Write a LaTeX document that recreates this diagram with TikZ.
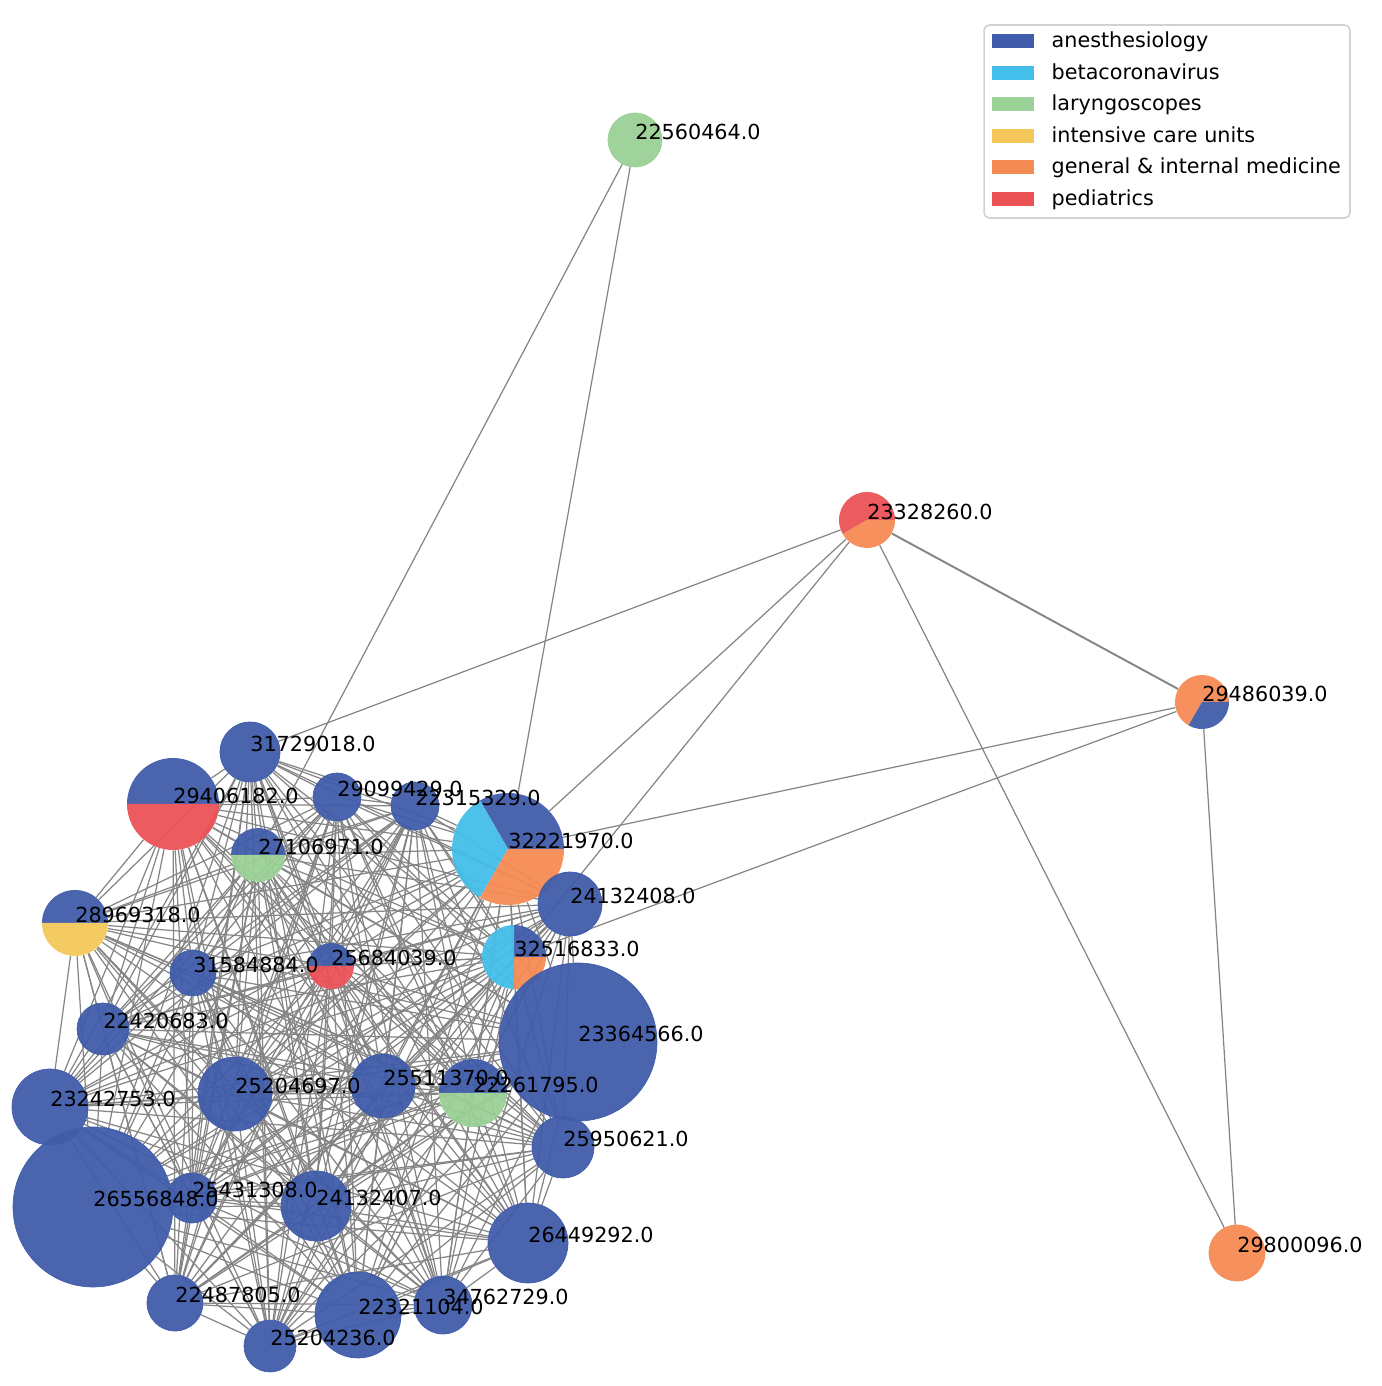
\documentclass[tikz,border=0pt]{standalone}
\usepackage{fontspec}
\setmainfont{DejaVu Sans}
\usetikzlibrary{positioning, backgrounds}
\definecolor{anes}{RGB}{64,92,170}
\definecolor{beta}{RGB}{68,190,234}
\definecolor{laryn}{RGB}{155,208,150}
\definecolor{icu}{RGB}{243,199,90}
\definecolor{genmed}{RGB}{245,139,84}
\definecolor{peds}{RGB}{234,82,86}
% one slice of a pie node: node, radius, start, end, colour
\newcommand{\piepart}[5]{\fill[#5, fill opacity=0.95] (#1.center) -- ++(#3:#2) arc[start angle=#3, end angle=#4, radius=#2] -- cycle;}

\begin{document}
\begin{tikzpicture}[x=0.02cm, y=0.02cm, font=\fontsize{11.8}{14}\selectfont,
    paper/.style args={#1/#2}{circle, inner sep=0pt, minimum size=#1*0.04cm, fill=#2, draw=#2, line width=0.4pt, fill opacity=0.95},
    pienode/.style={circle, inner sep=0pt, minimum size=#1*0.04cm},
    edge/.style={draw=black!48, line width=0.7pt},
    lbl/.style={anchor=base west, inner sep=0pt},
    patch/.style={rectangle, inner sep=0pt, minimum width=0.84cm, minimum height=0.28cm},
    legtxt/.style={inner sep=0pt, anchor=base west}]
  \useasboundingbox (0,0) rectangle (1382,1386);

  % outer papers
  \node[paper=27/laryn] (n22560464) at ( 635,1246) {};
  \node[pienode=28] (n23328260) at ( 867, 866) {};
  \piepart{n23328260}{28}{0}{210}{peds}
  \piepart{n23328260}{28}{210}{360}{genmed}
  \node[pienode=27] (n29486039) at (1202, 684) {};
  \piepart{n29486039}{27}{0}{240}{genmed}
  \piepart{n29486039}{27}{240}{360}{anes}
  \node[paper=28/genmed] (n29800096) at (1237, 133) {};

  % cluster
  \node[paper=30/anes] (n31729018) at ( 250, 634) {};
  \node[pienode=46] (n29406182) at ( 173, 582) {};
  \piepart{n29406182}{46}{0}{180}{anes}
  \piepart{n29406182}{46}{180}{360}{peds}
  \node[paper=24/anes] (n29099429) at ( 337, 589) {};
  \node[paper=24/anes] (n22315329) at ( 415, 580) {};
  \node[pienode=56] (n32221970) at ( 508, 537) {};
  \piepart{n32221970}{56}{0}{120}{anes}
  \piepart{n32221970}{56}{120}{240}{beta}
  \piepart{n32221970}{56}{240}{360}{genmed}
  \node[pienode=27] (n27106971) at ( 258, 531) {};
  \piepart{n27106971}{27}{0}{180}{anes}
  \piepart{n27106971}{27}{180}{360}{laryn}
  \node[paper=32/anes] (n24132408) at ( 570, 482) {};
  \node[pienode=33] (n28969318) at (  75, 463) {};
  \piepart{n28969318}{33}{0}{180}{anes}
  \piepart{n28969318}{33}{180}{360}{icu}
  \node[pienode=32] (n32516833) at ( 514, 429) {};
  \piepart{n32516833}{32}{0}{90}{anes}
  \piepart{n32516833}{32}{90}{270}{beta}
  \piepart{n32516833}{32}{270}{360}{genmed}
  \node[paper=23/anes] (n31584884) at ( 193, 413) {};
  \node[pienode=23] (n25684039) at ( 331, 420) {};
  \piepart{n25684039}{23}{0}{180}{anes}
  \piepart{n25684039}{23}{180}{360}{peds}
  \node[paper=79/anes] (n23364566) at ( 578, 344) {};
  \node[paper=26/anes] (n22420683) at ( 103, 357) {};
  \node[paper=37/anes] (n25204697) at ( 235, 292) {};
  \node[paper=32/anes] (n25511370) at ( 383, 300) {};
  \node[pienode=34] (n22261795) at ( 473, 293) {};
  \piepart{n22261795}{34}{0}{180}{anes}
  \piepart{n22261795}{34}{180}{360}{laryn}
  \node[paper=38/anes] (n23242753) at (  50, 279) {};
  \node[paper=31/anes] (n25950621) at ( 563, 239) {};
  \node[paper=80/anes] (n26556848) at (  93, 179) {};
  \node[paper=25/anes] (n25431308) at ( 192, 188) {};
  \node[paper=35/anes] (n24132407) at ( 316, 180) {};
  \node[paper=40/anes] (n26449292) at ( 528, 143) {};
  \node[paper=28/anes] (n22487805) at ( 175,  83) {};
  \node[paper=43/anes] (n22321104) at ( 358,  71) {};
  \node[paper=29/anes] (n34762729) at ( 443,  81) {};
  \node[paper=26/anes] (n25204236) at ( 270,  40) {};

  % links
  \def\cluster{n31729018,n29406182,n29099429,n22315329,n32221970,n27106971,n24132408,n28969318,n32516833,n31584884,n25684039,n23364566,n22420683,n25204697,n25511370,n22261795,n23242753,n25950621,n26556848,n25431308,n24132407,n26449292,n22487805,n22321104,n34762729,n25204236}
  \begin{pgfonlayer}{background}
    \foreach \a [count=\i] in \cluster {
      \foreach \b [count=\j] in \cluster {
        \ifnum\j>\i \draw[edge] (\a) -- (\b); \fi
      }
    }
    \draw[edge] (n22560464) -- (n27106971);
    \draw[edge] (n22560464) -- (n32221970);
    \draw[edge] (n23328260) -- (n31729018);
    \draw[edge] (n23328260) -- (n32221970);
    \draw[edge] (n23328260) -- (n32516833);
    \draw[edge, line width=1.1pt] (n23328260) -- (n29486039);
    \draw[edge] (n23328260) -- (n29800096);
    \draw[edge] (n29486039) -- (n32221970);
    \draw[edge] (n29486039) -- (n32516833);
    \draw[edge] (n29486039) -- (n29800096);
  \end{pgfonlayer}

  % labels
  \foreach \p in {22560464,23328260,29486039,29800096,31729018,29406182,29099429,22315329,32221970,27106971,24132408,28969318,32516833,31584884,25684039,23364566,22420683,25204697,25511370,22261795,23242753,25950621,26556848,25431308,24132407,26449292,22487805,22321104,34762729,25204236}
    \node[lbl] (t\p) at (n\p.center) {\p.0};

  % legend
  \node[draw=black!18, line width=0.9pt, rounded corners=3pt, minimum width=7.32cm, minimum height=3.86cm] (legend) at (1167,1264.5) {};
  \foreach \c/\t [count=\k] in {anes/anesthesiology, beta/betacoronavirus, laryn/laryngoscopes, icu/intensive care units, genmed/general \& internal medicine, peds/pediatrics} {
    \node[patch, fill=\c] (key\k) at (1013,{1345-31.6*(\k-1)}) {};
    \node[legtxt, right=0.34cm of key\k, anchor=base west, yshift=-0.13cm] (txt\k) {\t};
  }
\end{tikzpicture}
\end{document}
